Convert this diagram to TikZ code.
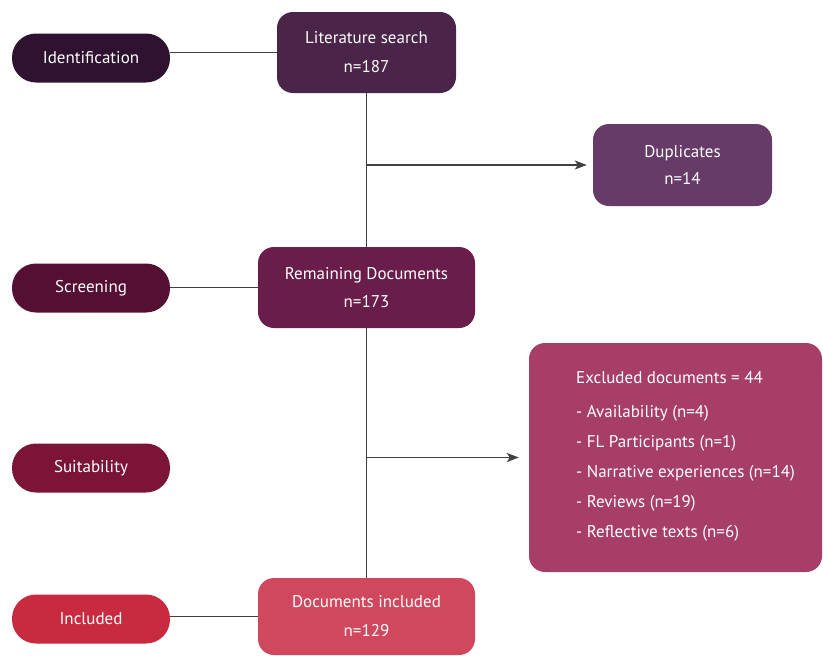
\documentclass[tikz,border=0pt]{standalone}
\usepackage{fontspec}
\setmainfont{PT Sans}
\usetikzlibrary{arrows.meta}
\definecolor{identcol}{HTML}{2E1230}
\definecolor{litcol}{HTML}{4A2449}
\definecolor{dupcol}{HTML}{673B68}
\definecolor{scrcol}{HTML}{540F33}
\definecolor{remcol}{HTML}{6A1D4A}
\definecolor{suitcol}{HTML}{7B1436}
\definecolor{exclcol}{HTML}{A63E68}
\definecolor{inccol}{HTML}{C82A40}
\definecolor{docscol}{HTML}{D0485E}
\definecolor{linkgray}{HTML}{404040}

\tikzset{
    stage/.style={rounded corners=24pt, minimum width=158pt, minimum height=49pt,
        inner sep=0, text=white, font=\fontsize{17}{20}\selectfont},
    flowbox/.style={rounded corners=16pt, inner sep=0, text=white, align=center,
        font=\fontsize{17}{29}\selectfont},
    link/.style={linkgray, line width=1.4pt},
    arrowlink/.style={link, -{Stealth[length=12pt, width=9pt, inset=3pt]}}
}

\begin{document}
\begin{tikzpicture}[x=1pt, y=-1pt]
    \useasboundingbox (0,0) rectangle (823,656);

    % phases on the left
    \node[stage, fill=identcol] (ident) at (91,58) {Identification};
    \node[stage, fill=scrcol] (scr) at (91,288) {Screening};
    \node[stage, fill=suitcol] (suit) at (91,468) {Suitability};
    \node[stage, fill=inccol] (inc) at (91,619) {Included};

    % flow boxes
    \node[flowbox, fill=litcol, minimum width=179pt, minimum height=81pt] (lit) at (366.5,52.5) {Literature search\\n=187};
    \node[flowbox, fill=dupcol, minimum width=179pt, minimum height=82pt,
        font=\fontsize{17}{27}\selectfont] (dup) at (682.5,165) {Duplicates\\n=14};
    \node[flowbox, fill=remcol, minimum width=217pt, minimum height=81pt,
        font=\fontsize{17}{28}\selectfont] (rem) at (366.5,287.5) {Remaining Documents\\n=173};
    \node[flowbox, fill=exclcol, minimum width=293pt, minimum height=229pt] (excl) at (675.5,457.5) {};
    \node[anchor=north west, inner sep=0, text=white, align=left,
        font=\fontsize{17}{30}\selectfont] (excltext) at (576,371) {Excluded documents = 44\\[4pt]
        - Availability (n=4)\\
        - FL Participants (n=1)\\
        - Narrative experiences (n=14)\\
        - Reviews (n=19)\\
        - Reflective texts (n=6)};
    \node[flowbox, fill=docscol, minimum width=217pt, minimum height=77pt] (incl) at (366.5,616.5) {Documents included\\n=129};

    % connectors
    \draw[link] (lit.west) -- (lit.west -| ident.east);
    \draw[link] (rem.west) -- (rem.west -| scr.east);
    \draw[link] (incl.west) -- (incl.west -| inc.east);
    \draw[link] (lit.south) -- (rem.north);
    \draw[link] (rem.south) -- (incl.north);
    \draw[arrowlink, shorten >=6pt] (lit.south |- dup.west) -- (dup.west);
    \draw[arrowlink, shorten >=10pt] (rem.south |- excl.west) -- (excl.west);
\end{tikzpicture}
\end{document}
